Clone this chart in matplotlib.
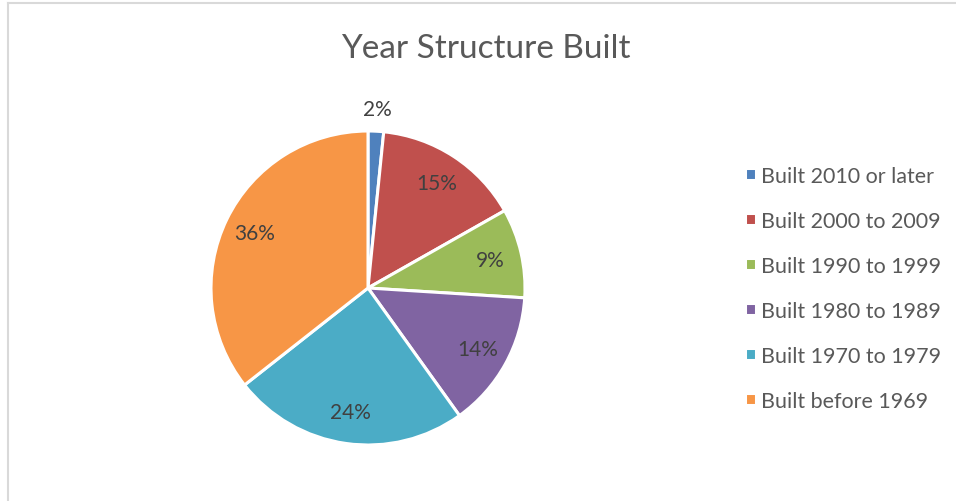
import matplotlib.pyplot as plt
from matplotlib.lines import Line2D

labels = ['Built 2010 or later', 'Built 2000 to 2009', 'Built 1990 to 1999',
          'Built 1980 to 1989', 'Built 1970 to 1979', 'Built before 1969']
values = [1.6, 15.2, 9.2, 14.1, 24.3, 35.6]
colors = ['#4F81BD', '#C0504D', '#9BBB59', '#8064A2', '#4BACC6', '#F79646']

plt.rcParams['font.family'] = ['Lato', 'DejaVu Sans']

fig = plt.figure(figsize=(9.56, 5.02), dpi=100)
W, H = 956, 502
cx, cy, r = 368, 289, 157
ax = fig.add_axes([(cx - r) / W, (H - cy - r) / H, 2 * r / W, 2 * r / H])

wedges, texts, autotexts = ax.pie(values, colors=colors, startangle=90, counterclock=False,
                                  autopct='%.0f%%', pctdistance=0.8, radius=1,
                                  wedgeprops=dict(edgecolor='white', linewidth=2.2),
                                  textprops=dict(color='#404040', fontsize=15))
# tiny slice label sits outside
autotexts[0].set_position((0.06, 1.14))
ax.set_xlim(-1, 1)
ax.set_ylim(-1, 1)
ax.set_aspect('auto')
ax.axis('off')

fig.text(486 / W, 1 - 49 / H, 'Year Structure Built', ha='center', va='center',
         fontsize=24, color='#595959')

fig.legend(wedges, labels, loc='upper left', bbox_to_anchor=(745 / W, 1 - 167 / H),
           frameon=False, fontsize=15.5, labelcolor='#595959', handlelength=0.5,
           handleheight=0.5, handletextpad=0.25, labelspacing=1.16,
           borderpad=0, borderaxespad=0)

# chart area border
fig.add_artist(Line2D([7.5 / W, 7.5 / W], [0, 1 - 4 / H], color='#D9D9D9', lw=1.5))
fig.add_artist(Line2D([7.5 / W, 1], [1 - 4 / H, 1 - 4 / H], color='#D9D9D9', lw=1.5))

fig.savefig('out.png', dpi=100)
